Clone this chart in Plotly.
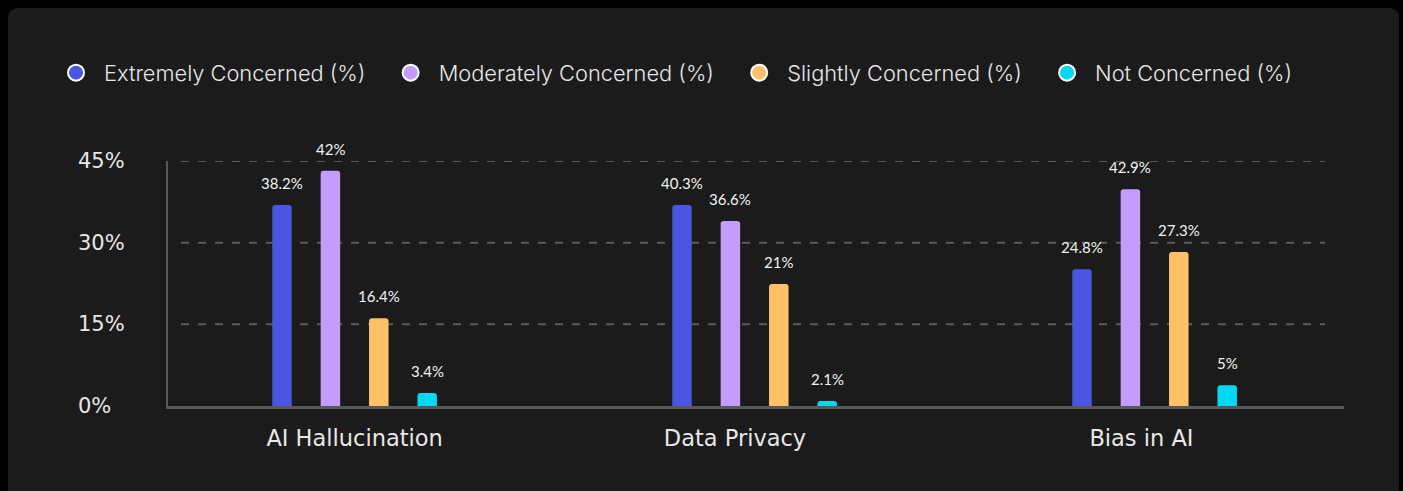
import plotly.graph_objects as go

# ---------------- data ----------------
categories = ["AI Hallucination", "Data Privacy", "Bias in AI"]
series_names = ["Extremely Concerned (%)", "Moderately Concerned (%)",
                "Slightly Concerned (%)", "Not Concerned (%)"]
# bar heights as drawn in the picture
extremely = [36.9, 36.9, 25.1]
moderately = [43.2, 34.0, 39.8]
slightly = [16.1, 22.4, 28.3]
not_concerned = [2.4, 0.9, 3.8]
# value labels as printed above bars
extremely_lbl = ["38.2%", "40.3%", "24.8%"]
moderately_lbl = ["42%", "36.6%", "42.9%"]
slightly_lbl = ["16.4%", "21%", "27.3%"]
not_concerned_lbl = ["3.4%", "2.1%", "5%"]
y_ticks = [0, 15, 30, 45]
y_tick_text = ["0%", "15%", "30%", "45%"]

# ---------------- style ----------------
colors = ["#4857E1", "#C59CFD", "#FEC168", "#00D8F6"]
W, H = 1403, 491
ML, MR, MT, MB = 168, 59, 161, 85
PW, PH = W - ML - MR, H - MT - MB
BARGAP = 0.516
SLOT = (1 - BARGAP) / 4
LABEL_NUDGE = [0.0, -0.049, -0.033]
FONT_AXIS = "'DejaVu Sans', sans-serif"
FONT_VAL = "Lato, sans-serif"
LEGEND_PAD = "\u00a0\u00a0"


def px_x(p):
    return (p - ML) / PW


def px_y(p):
    return (H - MB - p) / PH


values = [extremely, moderately, slightly, not_concerned]
labels = [extremely_lbl, moderately_lbl, slightly_lbl, not_concerned_lbl]
xs = list(range(len(categories)))

fig = go.Figure()
for j, (name, vals, col) in enumerate(zip(series_names, values, colors)):
    fig.add_trace(go.Bar(
        x=xs, y=vals, name=name, marker=dict(color=col, line=dict(width=0)),
        showlegend=False, hoverinfo="skip",
    ))
# legend entries as circles
for name, col in zip(series_names, colors):
    fig.add_trace(go.Scatter(
        x=[None], y=[None], mode="markers", name=name + LEGEND_PAD,
        marker=dict(symbol="circle", size=19, color=col,
                    line=dict(color="white", width=2)),
    ))

annotations = []
for j, (vals, lbls) in enumerate(zip(values, labels)):
    off = -(1 - BARGAP) / 2 + SLOT * (j + 0.5)
    for i, (v, t) in enumerate(zip(vals, lbls)):
        annotations.append(dict(
            x=xs[i] + off, y=v, xref="x", yref="y", text=t, showarrow=False,
            yanchor="bottom", yshift=11,
            font=dict(family=FONT_VAL, size=15, color="#f2f2f2"),
        ))
for v, t in zip(y_ticks, y_tick_text):
    annotations.append(dict(
        x=px_x(76), y=v, xref="paper", yref="y", text=t, showarrow=False,
        xanchor="left", yanchor="middle",
        font=dict(family=FONT_AXIS, size=21, color="#e8e8e8"),
    ))

# card background with rounded corners
r = 10
x0, x1, y0, y1 = 8, 1399, 8, 520
path = (f"M {px_x(x0 + r)},{px_y(y0)} L {px_x(x1 - r)},{px_y(y0)} "
        f"Q {px_x(x1)},{px_y(y0)} {px_x(x1)},{px_y(y0 + r)} "
        f"L {px_x(x1)},{px_y(y1)} L {px_x(x0)},{px_y(y1)} "
        f"L {px_x(x0)},{px_y(y0 + r)} Q {px_x(x0)},{px_y(y0)} {px_x(x0 + r)},{px_y(y0)} Z")
shapes = [dict(type="path", path=path, xref="paper", yref="paper",
               fillcolor="#1B1B1B", line=dict(width=0), layer="below")]
for v in y_ticks[1:]:
    shapes.append(dict(type="line", xref="paper", yref="y",
                       x0=px_x(181), x1=px_x(1325), y0=v, y1=v,
                       line=dict(color="#5C5C5C", width=2, dash="8px,9px"),
                       layer="below"))

fig.update_layout(
    width=W, height=H,
    margin=dict(l=ML, r=MR, t=MT, b=MB, pad=0),
    paper_bgcolor="#000000", plot_bgcolor="rgba(0,0,0,0)",
    barmode="group", bargap=BARGAP, bargroupgap=0.597, barcornerradius=3,
    showlegend=True,
    legend=dict(orientation="h", x=px_x(48), y=px_y(73), xanchor="left",
                yanchor="middle", itemwidth=46, bgcolor="rgba(0,0,0,0)",
                font=dict(family="Inter, sans-serif", size=21.8, color="#e6e6e6",
                          weight=300),
                itemclick=False, itemdoubleclick=False),
    xaxis=dict(range=[(ML - 354.6) / 400, (W - MR - 354.6) / 400],
               tickmode="array",
               tickvals=[x + n for x, n in zip(xs, LABEL_NUDGE)], ticktext=categories,
               showgrid=False, zeroline=False, showline=True,
               linecolor="#585858", linewidth=3, ticks="",
               ticklabelstandoff=10,
               tickfont=dict(family=FONT_AXIS, size=22.5, color="#e8e8e8"),
               fixedrange=True),
    yaxis=dict(range=[0, 45], tickvals=y_ticks, showticklabels=False,
               showgrid=False, zeroline=False, showline=True,
               linecolor="#585858", linewidth=2, ticks="", fixedrange=True),
    annotations=annotations, shapes=shapes,
    hovermode=False,
)

fig.write_html("out.html", config={"displayModeBar": False},
               post_script="document.body.style.margin='0';document.body.style.background='#000';")
